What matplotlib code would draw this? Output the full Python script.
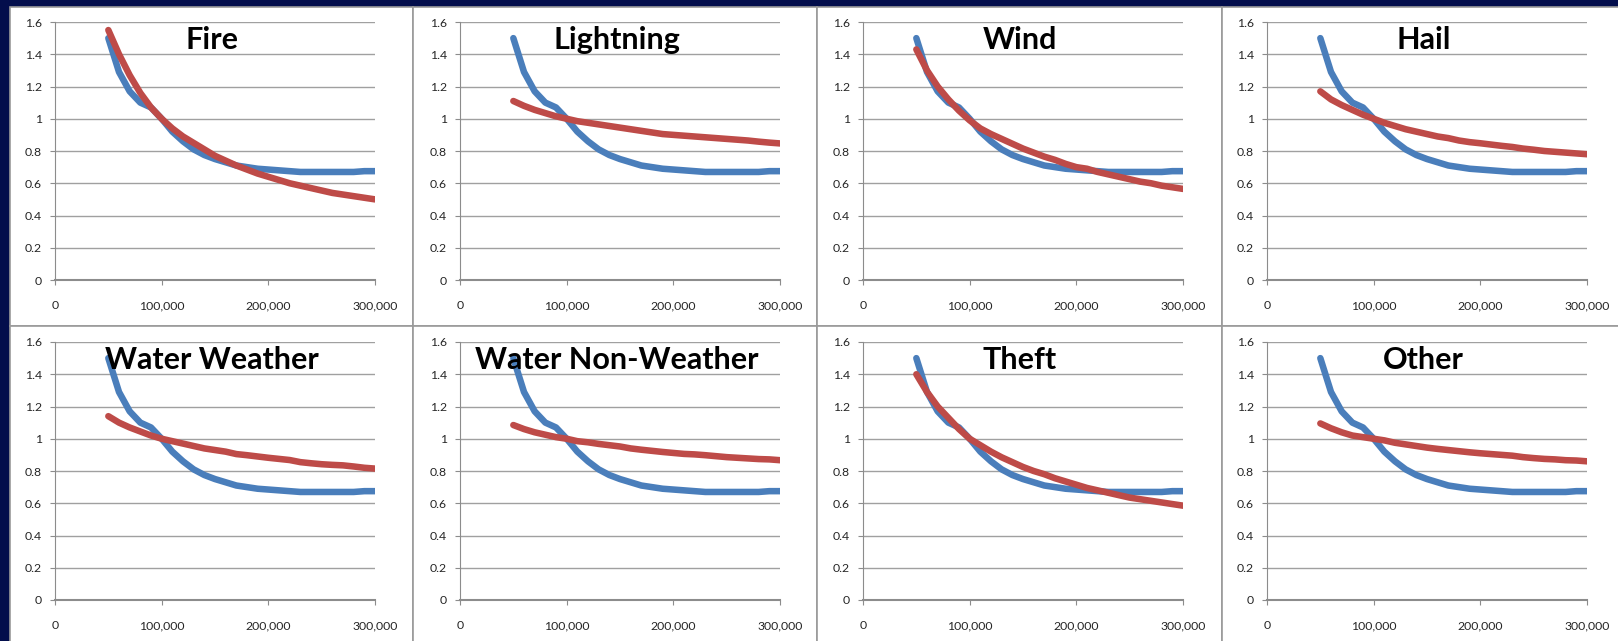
import matplotlib.pyplot as plt
from matplotlib.patches import Rectangle
from matplotlib.ticker import FuncFormatter, MultipleLocator

# x values (10,000 steps)
x_vals = list(range(50000, 300001, 10000))

# blue reference curve (same in every panel)
base_curve = [1.50, 1.29, 1.17, 1.10, 1.07, 1.00, 0.92, 0.86, 0.81, 0.775,
              0.75, 0.73, 0.71, 0.70, 0.69, 0.685, 0.68, 0.675, 0.67, 0.67,
              0.67, 0.67, 0.67, 0.67, 0.675, 0.675]

titles = ["Fire", "Lightning", "Wind", "Hail",
          "Water Weather", "Water Non-Weather", "Theft", "Other"]

fire = [1.55, 1.40, 1.27, 1.16, 1.07, 1.00, 0.94, 0.89, 0.85, 0.81,
        0.77, 0.74, 0.71, 0.685, 0.66, 0.64, 0.62, 0.60, 0.585, 0.57,
        0.555, 0.54, 0.53, 0.52, 0.51, 0.50]
lightning = [1.11, 1.08, 1.055, 1.035, 1.015, 1.00, 0.985, 0.975, 0.965, 0.955,
             0.945, 0.935, 0.925, 0.915, 0.905, 0.90, 0.895, 0.89, 0.885, 0.88,
             0.875, 0.87, 0.865, 0.858, 0.852, 0.847]
wind = [1.43, 1.30, 1.20, 1.12, 1.05, 0.99, 0.94, 0.905, 0.875, 0.845,
        0.815, 0.79, 0.765, 0.745, 0.72, 0.70, 0.69, 0.67, 0.655, 0.64,
        0.625, 0.61, 0.60, 0.585, 0.575, 0.565]
hail = [1.17, 1.12, 1.085, 1.055, 1.025, 1.00, 0.975, 0.955, 0.935, 0.92,
        0.905, 0.89, 0.88, 0.865, 0.855, 0.848, 0.84, 0.832, 0.825, 0.815,
        0.808, 0.80, 0.795, 0.79, 0.785, 0.78]
water_weather = [1.14, 1.10, 1.07, 1.045, 1.02, 1.00, 0.985, 0.97, 0.955, 0.94,
                 0.93, 0.92, 0.905, 0.898, 0.89, 0.882, 0.875, 0.868, 0.855, 0.848,
                 0.842, 0.838, 0.835, 0.828, 0.82, 0.815]
water_non_weather = [1.085, 1.06, 1.04, 1.025, 1.01, 1.00, 0.985, 0.978, 0.968, 0.96,
                     0.952, 0.94, 0.932, 0.925, 0.918, 0.912, 0.906, 0.903, 0.898, 0.892,
                     0.886, 0.882, 0.878, 0.874, 0.872, 0.867]
theft = [1.40, 1.29, 1.20, 1.13, 1.06, 1.00, 0.96, 0.92, 0.885, 0.855,
         0.825, 0.80, 0.78, 0.755, 0.735, 0.715, 0.695, 0.68, 0.665, 0.65,
         0.635, 0.625, 0.615, 0.605, 0.595, 0.585]
other = [1.095, 1.065, 1.04, 1.02, 1.01, 1.00, 0.99, 0.975, 0.965, 0.955,
         0.945, 0.937, 0.93, 0.923, 0.916, 0.91, 0.905, 0.90, 0.895, 0.886,
         0.88, 0.875, 0.872, 0.867, 0.865, 0.86]

red_series = [fire, lightning, wind, hail,
              water_weather, water_non_weather, theft, other]

W, H = 1618, 641
fig = plt.figure(figsize=(W / 100, H / 100), dpi=100)
fig.patch.set_facecolor("#030e4c")
plt.rcParams["font.family"] = ["Lato", "DejaVu Sans"]

# panel frames (pixel coords, top-left origin)
col_edges = [10, 413, 817, 1222, 1620]
row_edges = [7, 326, 643]
for r in range(2):
    for c in range(4):
        x0, x1 = col_edges[c], col_edges[c + 1]
        y0, y1 = row_edges[r], row_edges[r + 1]
        fig.patches.append(Rectangle((x0 / W, 1 - y1 / H), (x1 - x0) / W, (y1 - y0) / H,
                                     transform=fig.transFigure, facecolor="white",
                                     edgecolor="#9a9a9a", linewidth=1.2, zorder=-5))

axes_left = [55, 460, 863, 1267]
axes_top = [22, 342]
ax_w, ax_h = 320, 258

blue = "#4a7ebb"
red = "#be4b48"

for i, (title, red_vals) in enumerate(zip(titles, red_series)):
    r, c = divmod(i, 4)
    ax = fig.add_axes([axes_left[c] / W, 1 - (axes_top[r] + ax_h) / H, ax_w / W, ax_h / H])
    ax.set_facecolor("none")
    ax.plot(x_vals, base_curve, color=blue, lw=4.7, solid_capstyle="round", zorder=3)
    ax.plot(x_vals, red_vals, color=red, lw=4.7, solid_capstyle="round", zorder=4)
    ax.set_xlim(0, 300000)
    ax.set_ylim(0, 1.6)
    ax.xaxis.set_major_locator(MultipleLocator(100000))
    ax.yaxis.set_major_locator(MultipleLocator(0.2))
    ax.xaxis.set_major_formatter(FuncFormatter(lambda v, p: f"{v:,.0f}"))
    ax.yaxis.set_major_formatter(FuncFormatter(lambda v, p: f"{v:.1f}".rstrip("0").rstrip(".") if v else "0"))
    ax.grid(axis="y", color="#a0a0a0", lw=1.0)
    ax.set_axisbelow(True)
    for s in ["top", "right"]:
        ax.spines[s].set_visible(False)
    ax.spines["left"].set_color("#8c8c8c")
    ax.spines["bottom"].set_color("#8c8c8c")
    ax.spines["bottom"].set_linewidth(1.5)
    ax.tick_params(axis="y", length=3.5, color="#8c8c8c", pad=6, labelsize=8.8, labelcolor="#262626")
    ax.tick_params(axis="x", length=3.5, color="#8c8c8c", pad=11, labelsize=8.8, labelcolor="#262626")
    ax.text(0.49, 0.896, title, transform=ax.transAxes, ha="center", va="baseline",
            fontsize=22, fontweight="bold", color="black", zorder=5)

fig.savefig("out.png", dpi=100, facecolor=fig.get_facecolor())
